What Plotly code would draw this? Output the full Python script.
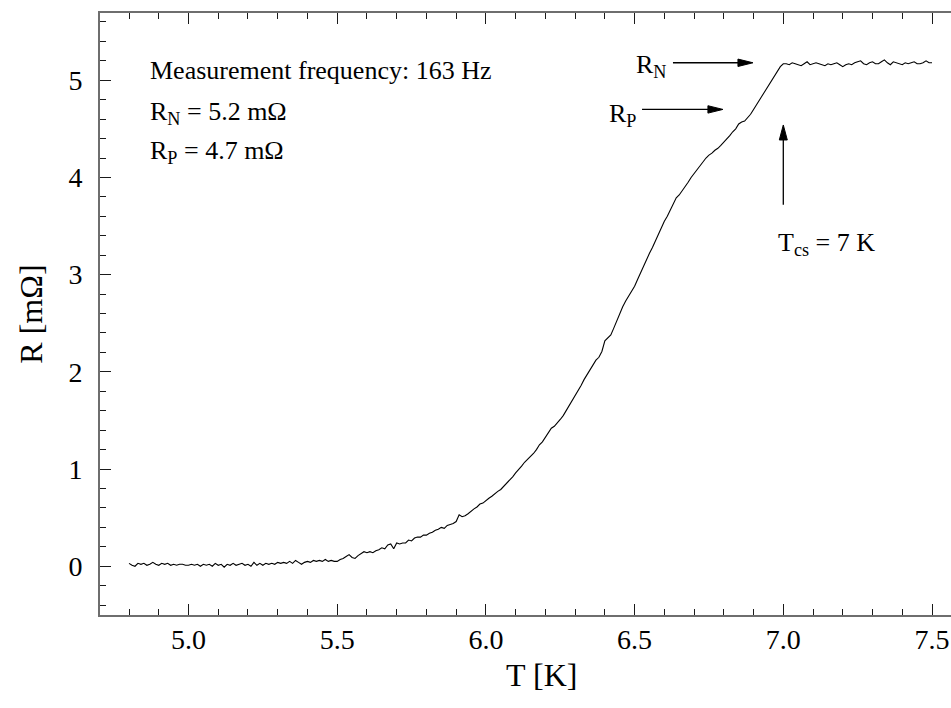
import plotly.graph_objects as go

# ---------------- data ----------------
T_K = [
    4.80, 4.81, 4.82, 4.83, 4.84, 4.85, 4.86, 4.87, 4.88, 4.89,
    4.90, 4.91, 4.92, 4.93, 4.94, 4.95, 4.96, 4.97, 4.98, 4.99,
    5.00, 5.01, 5.02, 5.03, 5.04, 5.05, 5.06, 5.07, 5.08, 5.09,
    5.10, 5.11, 5.12, 5.13, 5.14, 5.15, 5.16, 5.17, 5.18, 5.19,
    5.20, 5.21, 5.22, 5.23, 5.24, 5.25, 5.26, 5.27, 5.28, 5.29,
    5.30, 5.31, 5.32, 5.33, 5.34, 5.35, 5.36, 5.37, 5.38, 5.39,
    5.40, 5.41, 5.42, 5.43, 5.44, 5.45, 5.46, 5.47, 5.48, 5.49,
    5.50, 5.51, 5.52, 5.53, 5.54, 5.55, 5.56, 5.57, 5.58, 5.59,
    5.60, 5.61, 5.62, 5.63, 5.64, 5.65, 5.66, 5.67, 5.68, 5.69,
    5.70, 5.71, 5.72, 5.73, 5.74, 5.75, 5.76, 5.77, 5.78, 5.79,
    5.80, 5.81, 5.82, 5.83, 5.84, 5.85, 5.86, 5.87, 5.88, 5.89,
    5.90, 5.91, 5.92, 5.93, 5.94, 5.95, 5.96, 5.97, 5.98, 5.99,
    6.00, 6.01, 6.02, 6.03, 6.04, 6.05, 6.06, 6.07, 6.08, 6.09,
    6.10, 6.11, 6.12, 6.13, 6.14, 6.15, 6.16, 6.17, 6.18, 6.19,
    6.20, 6.21, 6.22, 6.23, 6.24, 6.25, 6.26, 6.27, 6.28, 6.29,
    6.30, 6.31, 6.32, 6.33, 6.34, 6.35, 6.36, 6.37, 6.38, 6.39,
    6.40, 6.41, 6.42, 6.43, 6.44, 6.45, 6.46, 6.47, 6.48, 6.49,
    6.50, 6.51, 6.52, 6.53, 6.54, 6.55, 6.56, 6.57, 6.58, 6.59,
    6.60, 6.61, 6.62, 6.63, 6.64, 6.65, 6.66, 6.67, 6.68, 6.69,
    6.70, 6.71, 6.72, 6.73, 6.74, 6.75, 6.76, 6.77, 6.78, 6.79,
    6.80, 6.81, 6.82, 6.83, 6.84, 6.85, 6.86, 6.87, 6.88, 6.89,
    6.90, 6.91, 6.92, 6.93, 6.94, 6.95, 6.96, 6.97, 6.98, 6.99,
    7.00, 7.01, 7.02, 7.03, 7.04, 7.05, 7.06, 7.07, 7.08, 7.09,
    7.10, 7.11, 7.12, 7.13, 7.14, 7.15, 7.16, 7.17, 7.18, 7.19,
    7.20, 7.21, 7.22, 7.23, 7.24, 7.25, 7.26, 7.27, 7.28, 7.29,
    7.30, 7.31, 7.32, 7.33, 7.34, 7.35, 7.36, 7.37, 7.38, 7.39,
    7.40, 7.41, 7.42, 7.43, 7.44, 7.45, 7.46, 7.47, 7.48, 7.49,
    7.50,
]

R_mOhm = [
    0.03, 0.01, 0.00, 0.03, 0.02, 0.03, 0.01, 0.02, 0.04, 0.02,
    0.01, 0.03, 0.02, 0.03, 0.01, 0.02, 0.01, 0.02, 0.02, 0.01,
    0.01, 0.02, 0.01, 0.02, 0.00, 0.02, 0.01, 0.02, 0.00, 0.03,
    0.01, 0.02, -0.01, 0.02, 0.01, 0.03, 0.01, 0.02, 0.03, 0.01,
    0.02, 0.00, 0.04, 0.01, 0.03, 0.01, 0.03, 0.02, 0.03, 0.02,
    0.04, 0.03, 0.04, 0.03, 0.05, 0.03, 0.06, 0.04, 0.02, 0.04,
    0.05, 0.04, 0.06, 0.05, 0.06, 0.05, 0.07, 0.05, 0.06, 0.05,
    0.05, 0.07, 0.08, 0.10, 0.12, 0.09, 0.08, 0.11, 0.13, 0.15,
    0.14, 0.15, 0.14, 0.16, 0.17, 0.19, 0.18, 0.22, 0.23, 0.18,
    0.24, 0.23, 0.24, 0.24, 0.27, 0.26, 0.29, 0.30, 0.30, 0.32,
    0.32, 0.34, 0.35, 0.37, 0.38, 0.40, 0.39, 0.42, 0.43, 0.44,
    0.46, 0.53, 0.51, 0.52, 0.54, 0.57, 0.59, 0.61, 0.64, 0.65,
    0.68, 0.70, 0.72, 0.75, 0.77, 0.79, 0.82, 0.85, 0.88, 0.92,
    0.96, 0.99, 1.03, 1.07, 1.10, 1.12, 1.16, 1.20, 1.25, 1.28,
    1.33, 1.38, 1.42, 1.44, 1.47, 1.51, 1.55, 1.60, 1.65, 1.70,
    1.75, 1.80, 1.86, 1.92, 1.97, 2.02, 2.07, 2.12, 2.15, 2.21,
    2.32, 2.35, 2.38, 2.45, 2.53, 2.60, 2.67, 2.73, 2.78, 2.83,
    2.88, 2.95, 3.02, 3.09, 3.15, 3.22, 3.28, 3.35, 3.42, 3.49,
    3.55, 3.60, 3.66, 3.73, 3.79, 3.82, 3.86, 3.91, 3.95, 4.00,
    4.04, 4.09, 4.13, 4.17, 4.20, 4.23, 4.25, 4.28, 4.30, 4.33,
    4.36, 4.40, 4.43, 4.47, 4.50, 4.55, 4.57, 4.58, 4.61, 4.65,
    4.70, 4.75, 4.80, 4.84, 4.90, 4.95, 5.00, 5.05, 5.10, 5.14,
    5.17, 5.17, 5.16, 5.18, 5.17, 5.16, 5.15, 5.17, 5.19, 5.16,
    5.17, 5.18, 5.17, 5.16, 5.15, 5.17, 5.16, 5.17, 5.18, 5.16,
    5.14, 5.16, 5.17, 5.16, 5.18, 5.19, 5.20, 5.17, 5.16, 5.18,
    5.19, 5.17, 5.17, 5.19, 5.21, 5.18, 5.16, 5.19, 5.18, 5.17,
    5.16, 5.18, 5.17, 5.18, 5.19, 5.17, 5.17, 5.18, 5.20, 5.18,
    5.18,
]

# annotation reference values (arrow positions in data units)
R_N_level = 5.18
R_P_level = 4.70
T_cs = 7.0

FONT = "Liberation Serif"

fig = go.Figure()
fig.add_trace(go.Scatter(
    x=T_K, y=R_mOhm, mode="lines",
    line=dict(color="black", width=1.1),
    hoverinfo="skip", showlegend=False,
))

common = dict(
    showgrid=False, zeroline=False, showline=True,
    linecolor="#6e6e6e", linewidth=2,
    ticks="inside", tickcolor="#1a1a1a", tickwidth=1.3, ticklen=11,
    tickfont=dict(family=FONT, size=28, color="black"),
    automargin=False,
)

fig.update_xaxes(
    range=[4.7024, 7.5639], tick0=0, dtick=0.5, tickformat=".1f",
    mirror="ticks",
    minor=dict(ticks="inside", ticklen=6, dtick=0.1, tick0=0,
               tickcolor="#1a1a1a", tickwidth=1.3, showgrid=False),
    ticklabelstandoff=-2,
    **common,
)
fig.update_yaxes(
    range=[-0.5015, 5.692], tick0=0, dtick=1,
    mirror=False,
    minor=dict(ticks="inside", ticklen=6, dtick=0.2, tick0=0,
               tickcolor="#1a1a1a", tickwidth=1.3, showgrid=False),
    title=dict(text="R [mΩ]", font=dict(family=FONT, size=32, color="black"), standoff=16),
    ticklabelstandoff=10,
    **common,
)

ann_font = dict(family=FONT, size=26, color="black")
annotations = [
    dict(x=4.864, y=5.103, text="Measurement frequency: 163 Hz", xanchor="left", yanchor="middle"),
    dict(x=4.864, y=4.66, text="R<sub>N</sub> = 5.2 mΩ", xanchor="left", yanchor="middle"),
    dict(x=4.864, y=4.26, text="R<sub>P</sub> = 4.7 mΩ", xanchor="left", yanchor="middle"),
    dict(x=6.612, y=5.15, text="R<sub>N</sub>", xanchor="right", yanchor="middle"),
    dict(x=6.510, y=4.64, text="R<sub>P</sub>", xanchor="right", yanchor="middle"),
    dict(x=6.976, y=3.32, text="T<sub>cs</sub> = 7 K", xanchor="left", yanchor="middle"),
]
for a in annotations:
    a.update(xref="x", yref="y", showarrow=False, font=ann_font)
# x-axis title placed as text below the tick labels
annotations.append(dict(
    x=0.519, y=-0.100, xref="paper", yref="paper", text="T [K]",
    showarrow=False, xanchor="center", yanchor="middle",
    font=dict(family=FONT, size=32, color="black"),
))

line_style = dict(color="black", width=1.3)
shapes = [
    # R_N arrow
    dict(type="line", xref="x", yref="y", x0=6.629, x1=6.88, y0=R_N_level, y1=R_N_level, line=line_style),
    dict(type="path", xref="x", yref="y", xsizemode="pixel", ysizemode="pixel",
         xanchor=6.898, yanchor=R_N_level, path="M0,0 L-15,3.7 L-15,-3.7 Z",
         fillcolor="black", line=dict(color="black", width=1)),
    # R_P arrow
    dict(type="line", xref="x", yref="y", x0=6.525, x1=6.78, y0=R_P_level, y1=R_P_level, line=line_style),
    dict(type="path", xref="x", yref="y", xsizemode="pixel", ysizemode="pixel",
         xanchor=6.797, yanchor=R_P_level, path="M0,0 L-15,3.7 L-15,-3.7 Z",
         fillcolor="black", line=dict(color="black", width=1)),
    # T_cs arrow
    dict(type="line", xref="x", yref="y", x0=T_cs, x1=T_cs, y0=3.72, y1=4.45, line=line_style),
    dict(type="path", xref="x", yref="y", xsizemode="pixel", ysizemode="pixel",
         xanchor=T_cs, yanchor=4.54, path="M0,0 L-4,-15 L4,-15 Z",
         fillcolor="black", line=dict(color="black", width=1)),
]

fig.update_layout(
    width=951, height=708,
    margin=dict(l=100, r=0, t=13, b=93, pad=0),
    paper_bgcolor="white", plot_bgcolor="white",
    font=dict(family=FONT, color="black"),
    annotations=annotations,
    shapes=shapes,
    showlegend=False,
)

fig.write_html(
    "out.html",
    config={"displayModeBar": False},
    post_script="document.body.style.margin='0px';document.body.style.overflow='hidden';",
)
